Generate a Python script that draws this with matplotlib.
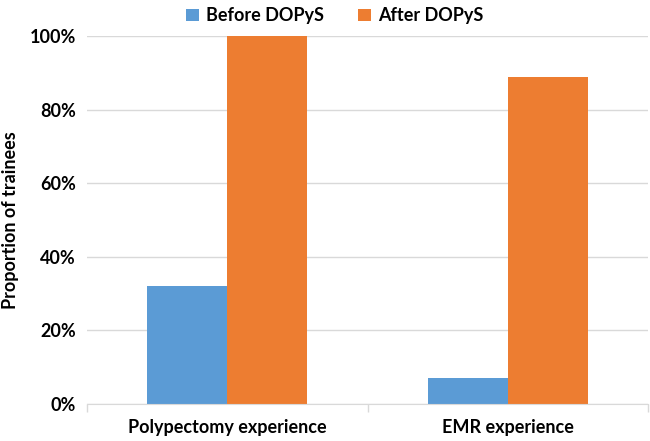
import matplotlib
matplotlib.use("Agg")
import matplotlib.pyplot as plt
import numpy as np
from matplotlib.ticker import FixedLocator, PercentFormatter

categories = ["Polypectomy experience", "EMR experience"]
series_names = ["Before DOPyS", "After DOPyS"]
before = [32, 7]
after = [100, 89]
yticks = [0, 20, 40, 60, 80, 100]

plt.rcParams['font.family'] = ['Lato', 'DejaVu Sans']
plt.rcParams['font.weight'] = 'bold'

fig = plt.figure(figsize=(6.5, 4.41), dpi=100)
ax = fig.add_axes([0.134, 0.0839, 0.863, 0.834])

x = np.arange(len(categories))
w = 0.285
ax.bar(x - w/2, before, width=w, color="#5B9BD5", label=series_names[0], zorder=3)
ax.bar(x + w/2, after, width=w, color="#ED7D31", label=series_names[1], zorder=3)

ax.set_xlim(-0.5, 1.5)
ax.set_ylim(0, 100)
ax.set_yticks(yticks)
ax.yaxis.set_major_formatter(PercentFormatter(decimals=0))
ax.set_xticks(x)
ax.set_xticklabels(categories, fontsize=13, fontweight='bold')
ax.xaxis.set_minor_locator(FixedLocator([-0.5, 0.5, 1.5]))
ax.tick_params(axis='x', which='major', length=0, pad=11)
ax.tick_params(axis='x', which='minor', length=6, color='#D9D9D9', width=1)
ax.tick_params(axis='y', length=0, labelsize=13, pad=8)
for lab in ax.get_yticklabels():
    lab.set_fontweight('bold')

ax.grid(axis='y', color='#D9D9D9', linewidth=1, zorder=0)
for s in ['top', 'right', 'left']:
    ax.spines[s].set_visible(False)
ax.spines['bottom'].set_color('#D9D9D9')
ax.spines['bottom'].set_zorder(4)

ax.set_ylabel("Proportion of trainees", fontsize=13, fontweight='bold', labelpad=8)

fig.legend(loc='upper center', bbox_to_anchor=(0.515, 1.02), ncol=2, frameon=False,
           handlelength=0.7, handleheight=0.7, columnspacing=1.9,
           handletextpad=0.4, prop={'weight': 'bold', 'size': 13})

fig.savefig("out.png", dpi=100)
